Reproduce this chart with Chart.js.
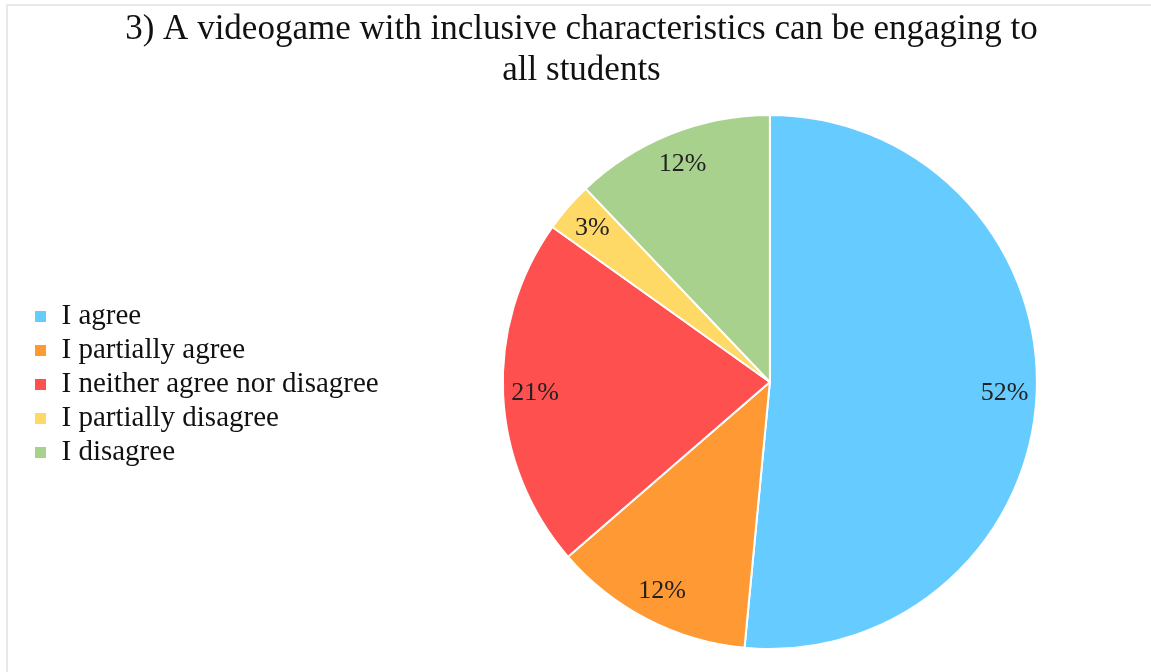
<!DOCTYPE html>
<html>
<head>
<meta charset="utf-8">
<title>Inclusive videogame survey</title>
<script src="https://cdn.jsdelivr.net/npm/chart.js@4.4.1/dist/chart.umd.min.js"></script>
<style>
  html, body { margin: 0; padding: 0; background: #fff; }
  #wrap { position: relative; width: 1151px; height: 672px; overflow: hidden; }
  #frame {
    position: absolute; left: 6px; top: 4px; right: -4px; bottom: -4px;
    border-left: 2px solid #e8e8e8; border-top: 2px solid #e8e8e8;
  }
  #surveyChart { position: absolute; left: 0; top: 0; }
</style>
</head>
<body>
<div id="wrap">
  <div id="frame"></div>
  <canvas id="surveyChart" width="1151" height="672"></canvas>
</div>
<script>
// Survey answers (number of respondents per answer)
const answers = [
  "I agree",
  "I partially agree",
  "I neither agree nor disagree",
  "I partially disagree",
  "I disagree",
];
const responses = [17, 4, 7, 1, 4];
const sliceColors = ["#66CCFF", "#FF9933", "#FF5050", "#FFD966", "#A9D18E"];

const serif = "'Liberation Serif', 'DejaVu Serif', serif";

// Writes the rounded percentage inside each slice, near the rim
const percentLabels = {
  id: "percentLabels",
  afterDatasetsDraw(chart) {
    const ctx = chart.ctx;
    const meta = chart.getDatasetMeta(0);
    const values = chart.data.datasets[0].data;
    const total = values.reduce((a, b) => a + b, 0);
    ctx.save();
    ctx.font = "26px " + serif;
    ctx.fillStyle = "#222";
    ctx.textAlign = "center";
    ctx.textBaseline = "middle";
    meta.data.forEach((arc, i) => {
      const p = arc.getProps(["x", "y", "startAngle", "endAngle", "outerRadius"], true);
      const mid = (p.startAngle + p.endAngle) / 2;
      const r = p.outerRadius * 0.88;
      const pct = Math.round((values[i] / total) * 100) + "%";
      ctx.fillText(pct, p.x + Math.cos(mid) * r, p.y + Math.sin(mid) * r);
    });
    ctx.restore();
  },
};

// Legend sits next to the pie, title is centred on the bordered panel
const panelLayout = {
  id: "panelLayout",
  afterLayout(chart) {
    chart.legend.top = chart.chartArea.top + 5;
    chart.legend.bottom = chart.chartArea.bottom;
    chart.titleBlock.left = 0;
    chart.titleBlock.right = chart.width + 12;
  },
};

const config = {
  type: "pie",
  data: {
    labels: answers,
    datasets: [
      {
        data: responses,
        backgroundColor: sliceColors,
        borderColor: "#ffffff",
        borderWidth: 2,
      },
    ],
  },
  options: {
    responsive: false,
    animation: false,
    layout: {
      padding: { left: 29, right: 0, top: 0, bottom: 22 },
    },
    plugins: {
      title: {
        display: true,
        text: [
          "3) A videogame with inclusive characteristics can be engaging to",
          "all students",
        ],
        color: "#111",
        font: { family: serif, size: 35, weight: "normal", lineHeight: 1.17 },
        padding: { top: 9, bottom: 23 },
      },
      legend: {
        position: "left",
        align: "center",
        labels: {
          color: "#111",
          boxWidth: 13,
          boxHeight: 13,
          padding: 5,
          font: { family: serif, size: 29 },
        },
      },
      tooltip: { enabled: false },
    },
  },
  plugins: [percentLabels, panelLayout],
};

const surveyChart = new Chart(document.getElementById("surveyChart"), config);
</script>
</body>
</html>
